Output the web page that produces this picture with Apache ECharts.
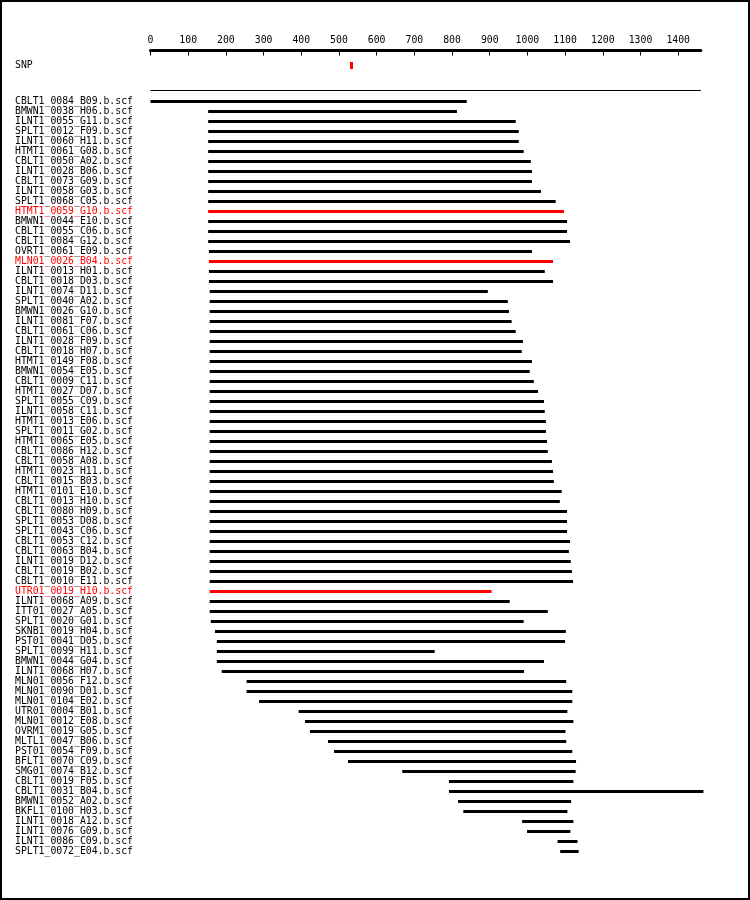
<!DOCTYPE html>
<html>
<head>
<meta charset="utf-8">
<script src="https://cdn.jsdelivr.net/npm/echarts@6/dist/echarts.min.js"></script>
<style>
html,body{margin:0;padding:0;background:#fff;}
#c{width:750px;height:900px;}
</style>
</head>
<body>
<div id="c"></div>
<script>
// ---- data ----
const readNames = [
"CBLT1_0084_B09.b.scf","BMWN1_0038_H06.b.scf","ILNT1_0055_G11.b.scf","SPLT1_0012_F09.b.scf",
"ILNT1_0060_H11.b.scf","HTMT1_0061_G08.b.scf","CBLT1_0050_A02.b.scf","ILNT1_0028_B06.b.scf",
"CBLT1_0073_G09.b.scf","ILNT1_0058_G03.b.scf","SPLT1_0068_C05.b.scf","HTMT1_0059_G10.b.scf",
"BMWN1_0044_E10.b.scf","CBLT1_0055_C06.b.scf","CBLT1_0084_G12.b.scf","OVRT1_0061_E09.b.scf",
"MLN01_0026_B04.b.scf","ILNT1_0013_H01.b.scf","CBLT1_0018_D03.b.scf","ILNT1_0074_D11.b.scf",
"SPLT1_0040_A02.b.scf","BMWN1_0026_G10.b.scf","ILNT1_0081_F07.b.scf","CBLT1_0061_C06.b.scf",
"ILNT1_0028_F09.b.scf","CBLT1_0018_H07.b.scf","HTMT1_0149_F08.b.scf","BMWN1_0054_E05.b.scf",
"CBLT1_0009_C11.b.scf","HTMT1_0027_D07.b.scf","SPLT1_0055_C09.b.scf","ILNT1_0058_C11.b.scf",
"HTMT1_0013_E06.b.scf","SPLT1_0011_G02.b.scf","HTMT1_0065_E05.b.scf","CBLT1_0086_H12.b.scf",
"CBLT1_0058_A08.b.scf","HTMT1_0023_H11.b.scf","CBLT1_0015_B03.b.scf","HTMT1_0101_E10.b.scf",
"CBLT1_0013_H10.b.scf","CBLT1_0080_H09.b.scf","SPLT1_0053_D08.b.scf","SPLT1_0043_C06.b.scf",
"CBLT1_0053_C12.b.scf","CBLT1_0063_B04.b.scf","ILNT1_0019_D12.b.scf","CBLT1_0019_B02.b.scf",
"CBLT1_0010_E11.b.scf","UTR01_0019_H10.b.scf","ILNT1_0068_A09.b.scf","ITT01_0027_A05.b.scf",
"SPLT1_0020_G01.b.scf","SKNB1_0019_H04.b.scf","PST01_0041_D05.b.scf","SPLT1_0099_H11.b.scf",
"BMWN1_0044_G04.b.scf","ILNT1_0068_H07.b.scf","MLN01_0056_F12.b.scf","MLN01_0090_D01.b.scf",
"MLN01_0104_E02.b.scf","UTR01_0004_B01.b.scf","MLN01_0012_E08.b.scf","OVRM1_0019_G05.b.scf",
"MLTL1_0047_B06.b.scf","PST01_0054_F09.b.scf","BFLT1_0070_C09.b.scf","SMG01_0074_B12.b.scf",
"CBLT1_0019_F05.b.scf","CBLT1_0031_B04.b.scf","BMWN1_0052_A02.b.scf","BKFL1_0100_H03.b.scf",
"ILNT1_0018_A12.b.scf","ILNT1_0076_G09.b.scf","ILNT1_0086_C09.b.scf","SPLT1_0072_E04.b.scf"
];
const readStart = [
0,153,153,153,153,153,153,153,153,153,153,153,153,153,153,155,
155,155,155,157,157,157,157,157,157,157,157,157,157,157,157,157,
157,157,157,157,157,157,157,157,157,157,157,157,157,157,157,157,
157,157,157,157,160,171,176,176,176,189,255,255,288,393,410,423,
471,487,524,668,792,792,816,830,986,999,1080,1087
];
const readEnd = [
839,813,969,977,977,990,1009,1012,1012,1036,1075,1097,1105,1105,1113,1012,
1068,1046,1068,895,948,951,958,969,988,985,1012,1006,1017,1028,1044,1046,
1049,1049,1052,1054,1065,1068,1070,1091,1086,1105,1105,1105,1113,1110,1115,1118,
1121,905,953,1054,990,1102,1100,754,1044,991,1103,1119,1119,1106,1122,1101,
1103,1119,1129,1128,1122,1467,1116,1106,1122,1114,1133,1136
];
const redReads = ["HTMT1_0059_G10.b.scf","MLN01_0026_B04.b.scf","UTR01_0019_H10.b.scf"];
const trackNames = ["SNP", ""];
const snpPositions = [533];
const consensusRange = [0, 1460];
const tickValues = [0,100,200,300,400,500,600,700,800,900,1000,1100,1200,1300,1400];
const axisMin = 0, axisMax = 1460;

// ---- chart ----
const FONT = "DejaVu Sans Mono";
const chart = echarts.init(document.getElementById('c'), null, {renderer: 'canvas'});

const readData = readNames.map((n, i) => [readStart[i], readEnd[i], i, redReads.includes(n) ? 1 : 0]);
const snpData = snpPositions.map(p => [p, 0]);
const consData = [[consensusRange[0], consensusRange[1], 1, 0]];

function spanRender(h) {
  return function (params, api) {
    const y = api.value(2);
    const p1 = api.coord([api.value(0), y]);
    const p2 = api.coord([api.value(1), y]);
    return {
      type: 'rect',
      shape: {x: p1[0], y: Math.round(p1[1] - h / 2), width: p2[0] - p1[0], height: h},
      style: {fill: api.value(3) ? '#ff0000' : '#000000'}
    };
  };
}

const labelColor = (v) => redReads.includes(v) ? '#ff0000' : '#000000';

const option = {
  animation: false,
  backgroundColor: '#ffffff',
  graphic: [{
    type: 'rect', silent: true, z: 100,
    shape: {x: 1, y: 1, width: 748, height: 898},
    style: {fill: 'none', stroke: '#000', lineWidth: 2}
  }],
  grid: [
    {left: 150.5, width: 550.3, top: 96, height: 760},
    {left: 150.5, width: 550.3, top: 53, height: 50}
  ],
  xAxis: [
    {gridIndex: 0, type: 'value', min: axisMin, max: axisMax, show: false},
    {gridIndex: 1, type: 'value', min: axisMin, max: axisMax, position: 'top', offset: 2.5,
     axisLine: {show: true, lineStyle: {color: '#000', width: 3}},
     axisTick: {show: true, inside: true, length: 5, customValues: tickValues, lineStyle: {color: '#000', width: 1}},
     axisLabel: {customValues: tickValues, formatter: (v) => String(v), color: '#000', fontFamily: FONT, fontSize: 9.8, margin: 5},
     splitLine: {show: false}}
  ],
  yAxis: [
    {gridIndex: 0, type: 'category', inverse: true, data: readNames,
     axisLine: {show: false}, axisTick: {show: false}, splitLine: {show: false},
     axisLabel: {interval: 0, align: 'left', margin: 135.5, fontFamily: FONT, fontSize: 9.8, color: labelColor}},
    {gridIndex: 1, type: 'category', inverse: true, data: trackNames,
     axisLine: {show: false}, axisTick: {show: false}, splitLine: {show: false},
     axisLabel: {interval: 0, align: 'left', margin: 135.5, fontFamily: FONT, fontSize: 9.8, color: '#000'}}
  ],
  series: [
    {type: 'custom', name: 'reads', xAxisIndex: 0, yAxisIndex: 0, clip: false,
     renderItem: spanRender(3), encode: {x: [0, 1], y: 2}, data: readData},
    {type: 'custom', name: 'consensus', xAxisIndex: 1, yAxisIndex: 1, clip: false,
     renderItem: spanRender(1), encode: {x: [0, 1], y: 2}, data: consData},
    {type: 'custom', name: 'snp', xAxisIndex: 1, yAxisIndex: 1, clip: false,
     renderItem: function (params, api) {
       const p = api.coord([api.value(0), api.value(1)]);
       return {type: 'rect', shape: {x: Math.round(p[0] - 1.5), y: Math.round(p[1] - 3.5), width: 3, height: 7},
               style: {fill: '#ff0000'}};
     },
     encode: {x: 0, y: 1}, data: snpData}
  ]
};
chart.setOption(option);
</script>
</body>
</html>
